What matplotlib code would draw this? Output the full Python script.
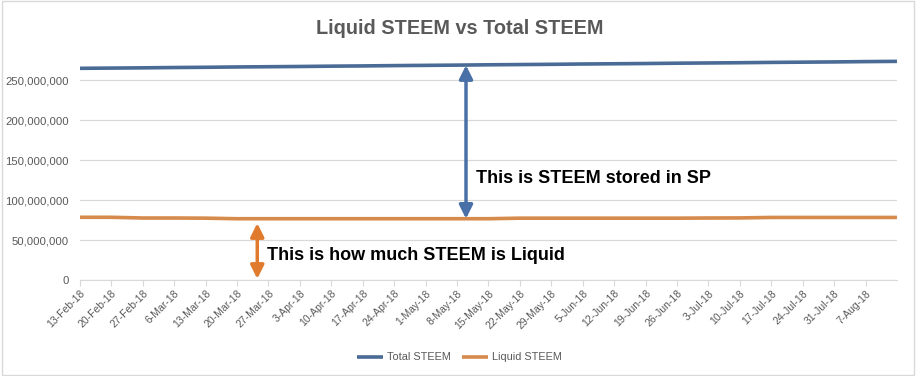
import pandas as pd
import matplotlib
matplotlib.use("Agg")
import matplotlib.pyplot as plt
from matplotlib.ticker import FuncFormatter

# Weekly readings, 13-Feb-18 to 14-Aug-18
dates = ["2018-02-13", "2018-02-20", "2018-02-27", "2018-03-06", "2018-03-13",
         "2018-03-20", "2018-03-27", "2018-04-03", "2018-04-10", "2018-04-17",
         "2018-04-24", "2018-05-01", "2018-05-08", "2018-05-15", "2018-05-22",
         "2018-05-29", "2018-06-05", "2018-06-12", "2018-06-19", "2018-06-26",
         "2018-07-03", "2018-07-10", "2018-07-17", "2018-07-24", "2018-07-31",
         "2018-08-07", "2018-08-14"]

# millions of STEEM
total_steem = [264.6, 264.9, 265.2, 265.6, 265.9, 266.3, 266.6, 266.9, 267.3,
               267.6, 268.0, 268.3, 268.6, 269.0, 269.3, 269.6, 270.0, 270.3,
               270.6, 271.0, 271.3, 271.6, 272.0, 272.3, 272.6, 273.0, 273.3]
liquid_steem = [78.4, 78.4, 77.5, 77.5, 77.3, 76.6, 76.6, 76.6, 76.6, 76.6,
                76.6, 76.6, 76.6, 76.6, 77.3, 77.3, 77.3, 77.3, 77.3, 77.3,
                77.5, 77.6, 78.2, 78.2, 78.2, 78.2, 78.2]

tick_labels = ["13-Feb-18", "20-Feb-18", "27-Feb-18", "6-Mar-18", "13-Mar-18",
               "20-Mar-18", "27-Mar-18", "3-Apr-18", "10-Apr-18", "17-Apr-18",
               "24-Apr-18", "1-May-18", "8-May-18", "15-May-18", "22-May-18",
               "29-May-18", "5-Jun-18", "12-Jun-18", "19-Jun-18", "26-Jun-18",
               "3-Jul-18", "10-Jul-18", "17-Jul-18", "24-Jul-18", "31-Jul-18",
               "7-Aug-18"]

df = pd.DataFrame({"date": pd.to_datetime(dates),
                   "total": [v * 1e6 for v in total_steem],
                   "liquid": [v * 1e6 for v in liquid_steem]})

blue = "#4a6b96"
orange = "#d68a4c"
grey = "#595959"

plt.rcParams["font.family"] = ["Liberation Sans", "DejaVu Sans"]

fig = plt.figure(figsize=(9.19, 3.76), dpi=100)
ax = fig.add_axes([0.087, 0.2553, 0.889, 0.6064])

ax.plot(df["date"], df["total"], color=blue, lw=2.6, label="Total STEEM",
        solid_capstyle="butt")
ax.plot(df["date"], df["liquid"], color=orange, lw=2.6, label="Liquid STEEM",
        solid_capstyle="butt")

ax.set_xlim(df["date"].iloc[0], df["date"].iloc[-1])
ax.set_ylim(0, 285e6)
ax.set_yticks([0, 50e6, 100e6, 150e6, 200e6, 250e6])
ax.yaxis.set_major_formatter(FuncFormatter(lambda v, p: f"{v:,.0f}"))
ax.grid(axis="y", color="#d9d9d9", lw=0.9)
ax.set_axisbelow(True)

ax.set_xticks(df["date"].iloc[:-1])
ax.set_xticklabels(tick_labels, rotation=45, ha="right", rotation_mode="anchor")
ax.tick_params(axis="x", length=4, color="#d9d9d9", labelsize=7.5,
               labelcolor=grey, pad=2)
ax.tick_params(axis="y", length=0, labelsize=8.2, labelcolor=grey, pad=8)

for s in ["top", "right", "left"]:
    ax.spines[s].set_visible(False)
ax.spines["bottom"].set_color("#d9d9d9")

fig.suptitle("Liquid STEEM vs Total STEEM", x=0.5, y=0.95, fontsize=14.3,
             fontweight="bold", color=grey)

# annotation arrows
note_font = ["Liberation Sans Narrow", "Liberation Sans", "DejaVu Sans"]
xa = pd.Timestamp("2018-05-10")
ax.annotate("", xy=(xa, 268.5e6), xytext=(xa, 76.6e6),
            arrowprops=dict(arrowstyle="<|-|>,head_length=0.8,head_width=0.4",
                            color="#4a70a8", lw=2.5, shrinkA=0, shrinkB=0))
ax.text(pd.Timestamp("2018-05-12 06:00"), 127e6, "This is STEEM stored in SP",
        fontsize=13, fontweight="bold", color="black", va="center",
        family=note_font)

xb = pd.Timestamp("2018-03-24 12:00")
ax.annotate("", xy=(xb, 71e6), xytext=(xb, 1.5e6),
            arrowprops=dict(arrowstyle="<|-|>,head_length=0.8,head_width=0.4",
                            color="#e07b2e", lw=2.5, shrinkA=0, shrinkB=0))
ax.text(pd.Timestamp("2018-03-26 18:00"), 31e6, "This is how much STEEM is Liquid",
        fontsize=13, fontweight="bold", color="black", va="center",
        family=note_font)

fig.legend(loc="lower center", bbox_to_anchor=(0.5, 0.01), ncol=2,
           frameon=False, fontsize=7.8, labelcolor=grey, handlelength=2.4,
           handletextpad=0.35, columnspacing=1.1)

fig.patches.append(plt.Rectangle((0.002, 0.003), 0.993, 0.994,
                                 transform=fig.transFigure, fill=False,
                                 edgecolor="#d9d9d9", lw=1))

fig.savefig("out.png", dpi=100)
